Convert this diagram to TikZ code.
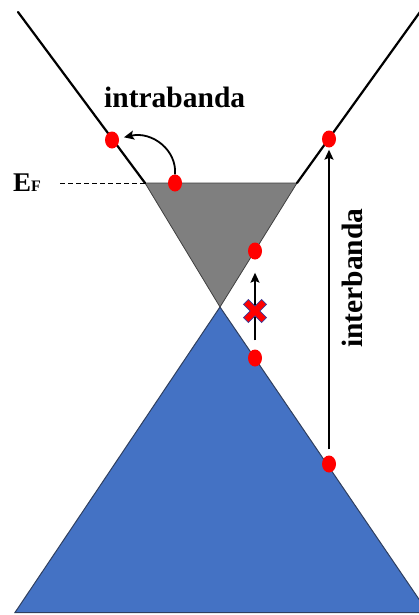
\documentclass[tikz,border=0pt]{standalone}
\usepackage{fontspec}
\setmainfont{Liberation Serif}
\usetikzlibrary{shapes.geometric,arrows.meta}
\definecolor{bandblue}{HTML}{4472C4}
\definecolor{bandedge}{HTML}{2F3F5F}
\definecolor{grayfill}{HTML}{7F7F7F}
\definecolor{grayedge}{HTML}{3F3F3F}
\definecolor{xedge}{HTML}{3A3F9A}
\begin{document}
\begin{tikzpicture}[x=1pt,y=-1pt,
  dot/.style={ellipse,fill=red,draw=none,minimum width=14pt,minimum height=17pt,inner sep=0pt},
  bandline/.style={line width=2.2pt,line cap=round},
  arr/.style={line width=1.8pt,-{Stealth[length=10pt,width=9pt,inset=2pt]}},
  lbl/.style={font=\bfseries\fontsize{29.5}{30}\selectfont,inner sep=0pt}]
\useasboundingbox (0,0) rectangle (419,615);
\begin{scope}
  \clip (0,0) rectangle (419,615);
  \filldraw[fill=bandblue,draw=bandedge,line width=1pt] (220,307) -- (15,612.5) -- (428,612.5) -- cycle;
  \filldraw[fill=grayfill,draw=grayedge,line width=0.8pt] (145,183) -- (297,183) -- (220,307) -- cycle;
  \draw[bandline] (18,12) -- (145,183);
  \draw[bandline] (297,183) -- (425,5);
\end{scope}
% Fermi level
\coordinate (efend) at (60,183);
\coordinate (gl) at (145,183);
\draw[dashed,dash pattern=on 5pt off 3pt,line width=0.8pt] (efend) -- (gl);
\node[lbl,anchor=base west] (ef) at (13,191) {{\fontsize{27}{27}\selectfont E}{\fontsize{16}{16}\selectfont F}};
% dots
\node[dot] (d1) at (112,140) {};
\node[dot] (d2) at (175,183) {};
\node[dot] (d3) at (255,251) {};
\node[dot] (d4) at (255,358) {};
\node[dot] (d5) at (329,139) {};
\node[dot] (d6) at (329,464) {};
% arrows
\draw[arr,shorten >=5pt] (d2.north) .. controls (177,150) and (152,131) .. (d1);
\draw[arr,shorten <=9pt,shorten >=13pt] (d4) -- (d3);
\draw[arr,shorten <=6pt,shorten >=2pt] (d6) -- (d5);
% red cross
\begin{scope}[shift={(255,311)},rotate=45]
  \filldraw[fill=red,draw=xedge,line width=0.7pt]
    (3.5,3.5) -- (12.8,3.5) -- (12.8,-3.5) -- (3.5,-3.5) -- (3.5,-12.8) -- (-3.5,-12.8)
    -- (-3.5,-3.5) -- (-12.8,-3.5) -- (-12.8,3.5) -- (-3.5,3.5) -- (-3.5,12.8) -- (3.5,12.8) -- cycle;
\end{scope}
% labels
\node[lbl,anchor=base west] (intra) at (104,107) {intrabanda};
\node[lbl,anchor=base west,rotate=90] (inter) at (362,348) {interbanda};
\end{tikzpicture}
\end{document}
